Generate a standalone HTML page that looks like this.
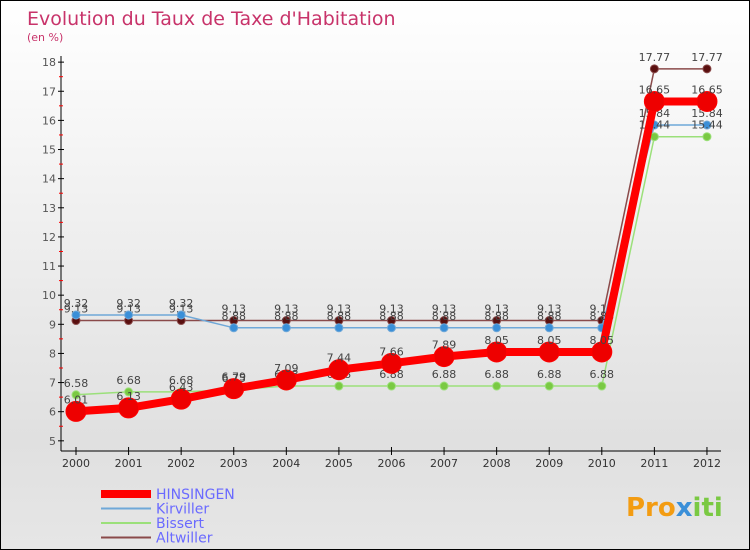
<!DOCTYPE html>
<html><head><meta charset="utf-8"><style>
body{margin:0}
#c{position:relative;width:748px;height:548px;border:1px solid #000;background:linear-gradient(#fff,#e0e0e0 80%,#e6e6e6);font-family:"DejaVu Sans","Liberation Sans",sans-serif;overflow:hidden}
</style></head><body>
<div id="c">
<svg width="748" height="548" id="svg">
<text x="26" y="24" font-size="19" fill="#c8336a">Evolution du Taux de Taxe d'Habitation</text>
<text x="26" y="40" font-size="11" fill="#c8336a">(en %)</text>
<text x="625" y="515" font-size="26" font-weight="bold" fill="#f39c12">Pro<tspan fill="#3a8fd8">x</tspan><tspan fill="#7ac943">iti</tspan></text>
</svg>
</div>
<script>
const years=[2000,2001,2002,2003,2004,2005,2006,2007,2008,2009,2010,2011,2012];
const hinsingen=[6.01,6.13,6.43,6.79,7.09,7.44,7.66,7.89,8.05,8.05,8.05,16.65,16.65];
const kirviller=[9.32,9.32,9.32,8.88,8.88,8.88,8.88,8.88,8.88,8.88,8.88,15.84,15.84];
const bissert=[6.58,6.68,6.68,6.75,6.88,6.88,6.88,6.88,6.88,6.88,6.88,15.44,15.44];
const altwiller=[9.13,9.13,9.13,9.13,9.13,9.13,9.13,9.13,9.13,9.13,9.13,17.77,17.77];
const yTicks=[5,6,7,8,9,10,11,12,13,14,15,16,17,18];
const svg=document.getElementById('svg');const NS='http://www.w3.org/2000/svg';
const X=i=>75+i*52.58;const Y=v=>323.3-(v-9)*29.13;
function mk(t,a,p){const e=document.createElementNS(NS,t);for(const k in a)e.setAttribute(k,a[k]);(p||svg).appendChild(e);return e;}
let ax=mk('line',{x1:60,y1:55,x2:60,y2:450,stroke:'#000'});


let xa=mk('line',{x1:60,y1:450,x2:720,y2:450,stroke:'#000'});


yTicks.forEach(v=>{mk('line',{x1:57,x2:63,y1:Y(v),y2:Y(v),stroke:'#000'});
 if(v<18)mk('line',{x1:58,x2:62,y1:Y(v+0.5),y2:Y(v+0.5),stroke:'#f00'});
 const t=mk('text',{x:55,y:Y(v)+4,'font-size':11,fill:'#555','text-anchor':'end'});t.textContent=v;
 
 });
years.forEach((y,i)=>{mk('line',{x1:X(i),x2:X(i),y1:446,y2:454,stroke:'#000'});
 const t=mk('text',{x:X(i),y:466,'font-size':11,fill:'#333','text-anchor':'middle'});t.textContent=y;
 
 });
function series(d,col,w,r,name,fill){
 const g=mk('g',{});
 
 
 mk('polyline',{points:d.map((v,i)=>X(i)+','+Y(v)).join(' '),fill:'none',stroke:col,'stroke-width':w},g);
 d.forEach((v,i)=>{const c=mk('circle',{cx:X(i),cy:Y(v),r:r,fill:fill,stroke:col,'stroke-width':1},g);
  
  
  const t=mk('text',{x:X(i),y:Y(v)-8,'font-size':11,fill:'#444','text-anchor':'middle'},g);t.textContent=v.toFixed(2);});
}
series(altwiller,'#8a4a4a',1.5,4,'altwiller','#5a1010');
series(kirviller,'#6fa8d8',1.5,4,'kirviller','#3a8fd8');
series(bissert,'#9be07a',1.5,4,'bissert','#7ac943');
series(hinsingen,'#ff0000',8,10,'hinsingen','#ee0000');
const leg=[['HINSINGEN','#ff0000',8],['Kirviller','#6fa8d8',2],['Bissert','#9be07a',2],['Altwiller','#8a4a4a',2]];
leg.forEach((l,i)=>{const y=493+i*14.5;const g=mk('g',{});
 
 
 mk('line',{x1:100,x2:150,y1:y,y2:y,stroke:l[1],'stroke-width':l[2]},g);
 const t=mk('text',{x:155,y:y+5,'font-size':14,fill:'#6a6aff'},g);t.textContent=l[0];});
</script>
</body></html>
